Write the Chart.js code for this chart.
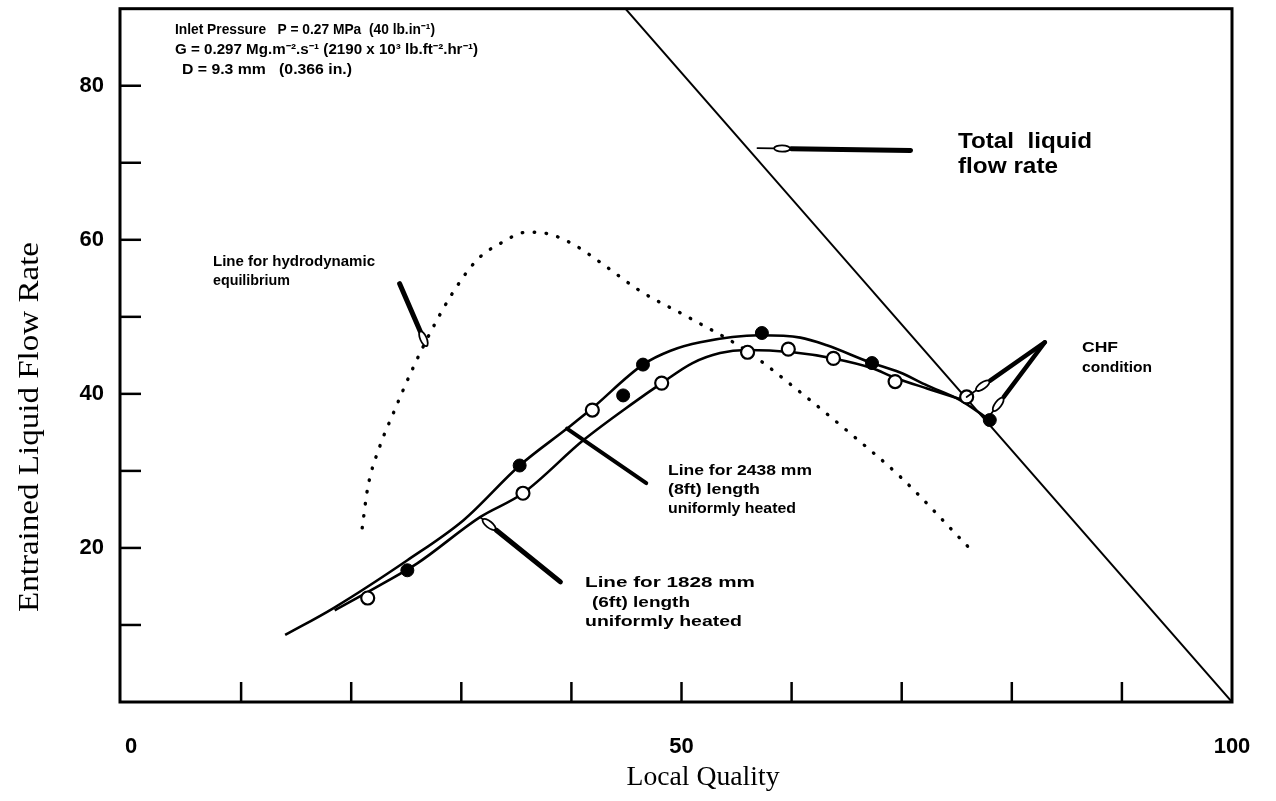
<!DOCTYPE html>
<html><head><meta charset="utf-8">
<script src="https://cdn.jsdelivr.net/npm/chart.js@4.4.0/dist/chart.umd.min.js"></script>
<style>html,body{margin:0;padding:0;background:#fff;}canvas{display:block;}</style>
</head><body>
<canvas id="c" width="1276" height="801"></canvas>
<script>
// ---------- data ----------
const xTicks = [0,10,20,30,40,50,60,70,80,90,100];
const xTickLabels = {0:'0',50:'50',100:'100'};
const yTicks = [0,10,20,30,40,50,60,70,80,90];
const yTickLabels = {20:'20',40:'40',60:'60',80:'80'};

const totalFlowX = [44.9, 100];
const totalFlowY = [90, 0];

const hydroX = [21.0,21.5,22.6,23.8,25.4,27.2,29.3,31.5,33.5,36.0,38.1,40.3,42.6,46.2,50.8,55.8,60.8,65.3,69.9,76.0];
const hydroY = [22.6,27.8,33.2,37.4,42.7,48.0,53.3,57.5,59.5,61.0,60.7,59.3,57.1,53.4,49.8,45.7,40.2,34.9,29.2,20.2];

const line8ftX = [14.0,18.4,25.1,30.2,35.3,39.6,41.7,46.5,49.0,51.7,57.1,60.8,63.2,67.1,69.8,72.3,75.3,78.0];
const line8ftY = [8.7,12.2,18.4,23.6,30.7,35.5,37.9,43.8,45.6,46.7,47.6,47.3,46.3,44.1,42.8,41.1,39.2,36.6];

const line6ftX = [18.5,22.9,26.0,31.7,35.6,41.1,45.6,48.2,51.0,53.5,55.9,60.1,63.8,67.4,69.2,72.3,75.6];
const line6ftY = [11.9,15.4,18.0,24.0,27.1,34.0,38.8,41.4,44.0,45.3,45.7,45.4,44.6,43.3,42.2,40.7,39.2];

const filledX = [25.1,35.3,44.7,46.5,57.3,67.3,78.0];
const filledY = [17.1,30.7,39.8,43.8,47.9,44.0,36.6];

const openX = [21.5,35.6,41.9,48.2,56.0,59.7,63.8,69.4,75.9];
const openY = [13.5,27.1,37.9,41.4,45.4,45.8,44.6,41.6,39.6];

// ---------- annotation layout ----------
const pointers = [
  {tail:[70.8,71.6], tip:[56.9,71.9], thick:0.78, w:5},
  {tail:[24.4,54.3], tip:[26.7,46.7], thick:0.82, w:5},
  {tail:[46.8,28.4], tip:[39.6,35.5], thick:1.0,  w:4},
  {tail:[39.0,15.6], tip:[31.7,24.0], thick:0.80, w:5},
  {tail:[83.0,46.7], tip:[75.9,39.6], thick:0.70, w:4.5},
  {tail:[83.0,46.7], tip:[77.8,36.8], thick:0.72, w:4.5}
];
const notes = [
  {t:'Inlet Pressure   P = 0.27 MPa  (40 lb.in\u207B\u00B9)', x:175, y:30, w:260, f:'bold 14px "Liberation Sans", Arial, sans-serif'},
  {t:'G = 0.297 Mg.m\u207B\u00B2.s\u207B\u00B9 (2190 x 10\u00B3 lb.ft\u207B\u00B2.hr\u207B\u00B9)', x:175, y:50, w:303, f:'bold 14px "Liberation Sans", Arial, sans-serif'},
  {t:'D = 9.3 mm   (0.366 in.)', x:182, y:70, w:170, f:'bold 14px "Liberation Sans", Arial, sans-serif'},
  {t:'Total  liquid', x:958, y:142, w:134, f:'bold 22px "Liberation Sans", Arial, sans-serif'},
  {t:'flow rate', x:958, y:167, w:100, f:'bold 22px "Liberation Sans", Arial, sans-serif'},
  {t:'Line for hydrodynamic', x:213, y:262, w:162, f:'bold 15px "Liberation Sans", Arial, sans-serif'},
  {t:'equilibrium', x:213, y:281, w:77, f:'bold 15px "Liberation Sans", Arial, sans-serif'},
  {t:'CHF', x:1082, y:348, w:36, f:'bold 15px "Liberation Sans", Arial, sans-serif'},
  {t:'condition', x:1082, y:368, w:70, f:'bold 15px "Liberation Sans", Arial, sans-serif'},
  {t:'Line for 2438 mm', x:668, y:471, w:144, f:'bold 15px "Liberation Sans", Arial, sans-serif'},
  {t:'(8ft) length', x:668, y:490, w:92, f:'bold 15px "Liberation Sans", Arial, sans-serif'},
  {t:'uniformly heated', x:668, y:509, w:128, f:'bold 15px "Liberation Sans", Arial, sans-serif'},
  {t:'Line for 1828 mm', x:585, y:583, w:170, f:'bold 15px "Liberation Sans", Arial, sans-serif'},
  {t:'(6ft) length', x:592, y:603, w:98, f:'bold 15px "Liberation Sans", Arial, sans-serif'},
  {t:'uniformly heated', x:585, y:622, w:157, f:'bold 15px "Liberation Sans", Arial, sans-serif'}
];
const xTitle = {t:'Local Quality', cx:703, cy:778, w:153, f:'27px "Liberation Serif", "Times New Roman", serif'};
const yTitle = {t:'Entrained Liquid Flow Rate', cx:30, cy:427, w:370, f:'30px "Liberation Serif", "Times New Roman", serif'};

const pts = (xs, ys) => xs.map((x,i)=>({x, y:ys[i]}));

function fitText(ctx, n) {
  ctx.save();
  ctx.font = n.f;
  const m = ctx.measureText(n.t).width;
  const s = n.w / m;
  ctx.fillStyle = '#000';
  ctx.textBaseline = 'middle';
  ctx.textAlign = 'left';
  ctx.translate(n.x, n.y);
  ctx.scale(s, 1);
  ctx.fillText(n.t, 0, 0);
  ctx.restore();
}

const decor = {
  id:'decor',
  afterDatasetsDraw(chart) {
    const ctx = chart.ctx, a = chart.chartArea, xs = chart.scales.x, ys = chart.scales.y;
    ctx.save();
    // frame
    ctx.strokeStyle = '#000'; ctx.lineWidth = 3;
    ctx.strokeRect(a.left, a.top, a.right - a.left, a.bottom - a.top);
    // inner tick marks
    ctx.lineWidth = 2.5; ctx.lineCap = 'butt';
    xTicks.forEach(v => {
      if (v <= 0 || v >= 100) return;
      const px = xs.getPixelForValue(v);
      ctx.beginPath(); ctx.moveTo(px, a.bottom); ctx.lineTo(px, a.bottom - 20); ctx.stroke();
    });
    yTicks.forEach(v => {
      if (v <= 0 || v >= 90) return;
      const py = ys.getPixelForValue(v);
      ctx.beginPath(); ctx.moveTo(a.left, py); ctx.lineTo(a.left + 21, py); ctx.stroke();
    });
    // pointers
    pointers.forEach(p => {
      const x1 = xs.getPixelForValue(p.tail[0]), y1 = ys.getPixelForValue(p.tail[1]);
      const x2 = xs.getPixelForValue(p.tip[0]),  y2 = ys.getPixelForValue(p.tip[1]);
      const mx = x1 + (x2 - x1) * p.thick, my = y1 + (y2 - y1) * p.thick;
      ctx.strokeStyle = '#000'; ctx.lineCap = 'round';
      ctx.lineWidth = p.w;
      ctx.beginPath(); ctx.moveTo(x1, y1); ctx.lineTo(mx, my); ctx.stroke();
      if (p.thick < 1) {
        ctx.lineWidth = 1.8;
        ctx.beginPath(); ctx.moveTo(mx, my); ctx.lineTo(x2, y2); ctx.stroke();
        const ang = Math.atan2(y2 - y1, x2 - x1);
        const len = Math.hypot(x2 - x1, y2 - y1);
        const ox = mx + Math.cos(ang) * Math.min(9, len * 0.12), oy = my + Math.sin(ang) * Math.min(9, len * 0.12);
        ctx.beginPath(); ctx.ellipse(ox, oy, 8, 3.2, ang, 0, Math.PI * 2);
        ctx.fillStyle = '#fff'; ctx.fill(); ctx.lineWidth = 1.8; ctx.stroke();
      }
    });
    ctx.restore();
    // texts
    notes.forEach(n => fitText(ctx, n));
    // axis titles
    ctx.save();
    ctx.fillStyle = '#000'; ctx.textBaseline = 'middle'; ctx.textAlign = 'center';
    ctx.font = xTitle.f;
    let m = ctx.measureText(xTitle.t).width;
    ctx.translate(xTitle.cx, xTitle.cy); ctx.scale(xTitle.w / m, 1);
    ctx.fillText(xTitle.t, 0, 0);
    ctx.restore();
    ctx.save();
    ctx.fillStyle = '#000'; ctx.textBaseline = 'middle'; ctx.textAlign = 'center';
    ctx.font = yTitle.f;
    m = ctx.measureText(yTitle.t).width;
    ctx.translate(yTitle.cx, yTitle.cy); ctx.rotate(-Math.PI / 2); ctx.scale(yTitle.w / m, 1);
    ctx.fillText(yTitle.t, 0, 0);
    ctx.restore();
  }
};

const tickFont = {family:'"Liberation Sans", Arial, sans-serif', size:22, weight:'bold'};

new Chart(document.getElementById('c'), {
  type:'line',
  data:{
    datasets:[
      {type:'scatter', data:pts(filledX, filledY), pointRadius:6.5, pointBackgroundColor:'#000', pointBorderColor:'#000', pointBorderWidth:1, showLine:false},
      {type:'scatter', data:pts(openX, openY), pointRadius:6.5, pointBackgroundColor:'#fff', pointBorderColor:'#000', pointBorderWidth:2.2, showLine:false},
      {data:pts(line8ftX, line8ftY), borderColor:'#000', borderWidth:2.6, pointRadius:0, cubicInterpolationMode:'monotone', fill:false},
      {data:pts(line6ftX, line6ftY), borderColor:'#000', borderWidth:2.6, pointRadius:0, cubicInterpolationMode:'monotone', fill:false},
      {data:pts(hydroX, hydroY), borderColor:'#000', borderWidth:3.4, borderDash:[0.5, 11.5], borderCapStyle:'round', pointRadius:0, cubicInterpolationMode:'monotone', fill:false},
      {data:pts(totalFlowX, totalFlowY), borderColor:'#000', borderWidth:2, pointRadius:0, tension:0, fill:false}
    ]
  },
  options:{
    responsive:false, animation:false, devicePixelRatio:1,
    layout:{padding:{left:0, right:44, top:8, bottom:0}},
    plugins:{legend:{display:false}, tooltip:{enabled:false}},
    scales:{
      x:{type:'linear', min:-1, max:100,
        afterBuildTicks:s=>{ s.ticks = xTicks.map(v=>({value:v})); },
        afterFit:s=>{ s.height = 99; s.paddingLeft = 0; s.paddingRight = 0; },
        grid:{display:false, drawTicks:false}, border:{display:false},
        ticks:{callback:v=>xTickLabels[v] ?? '', font:tickFont, color:'#000', padding:32, maxRotation:0, autoSkip:false}},
      y:{type:'linear', min:0, max:90,
        afterBuildTicks:s=>{ s.ticks = yTicks.map(v=>({value:v})); },
        afterFit:s=>{ s.width = 120; s.paddingTop = 0; s.paddingBottom = 0; },
        grid:{display:false, drawTicks:false}, border:{display:false},
        ticks:{callback:v=>yTickLabels[v] ?? '', font:tickFont, color:'#000', padding:16, autoSkip:false}}
    }
  },
  plugins:[decor]
});
</script>
</body></html>
